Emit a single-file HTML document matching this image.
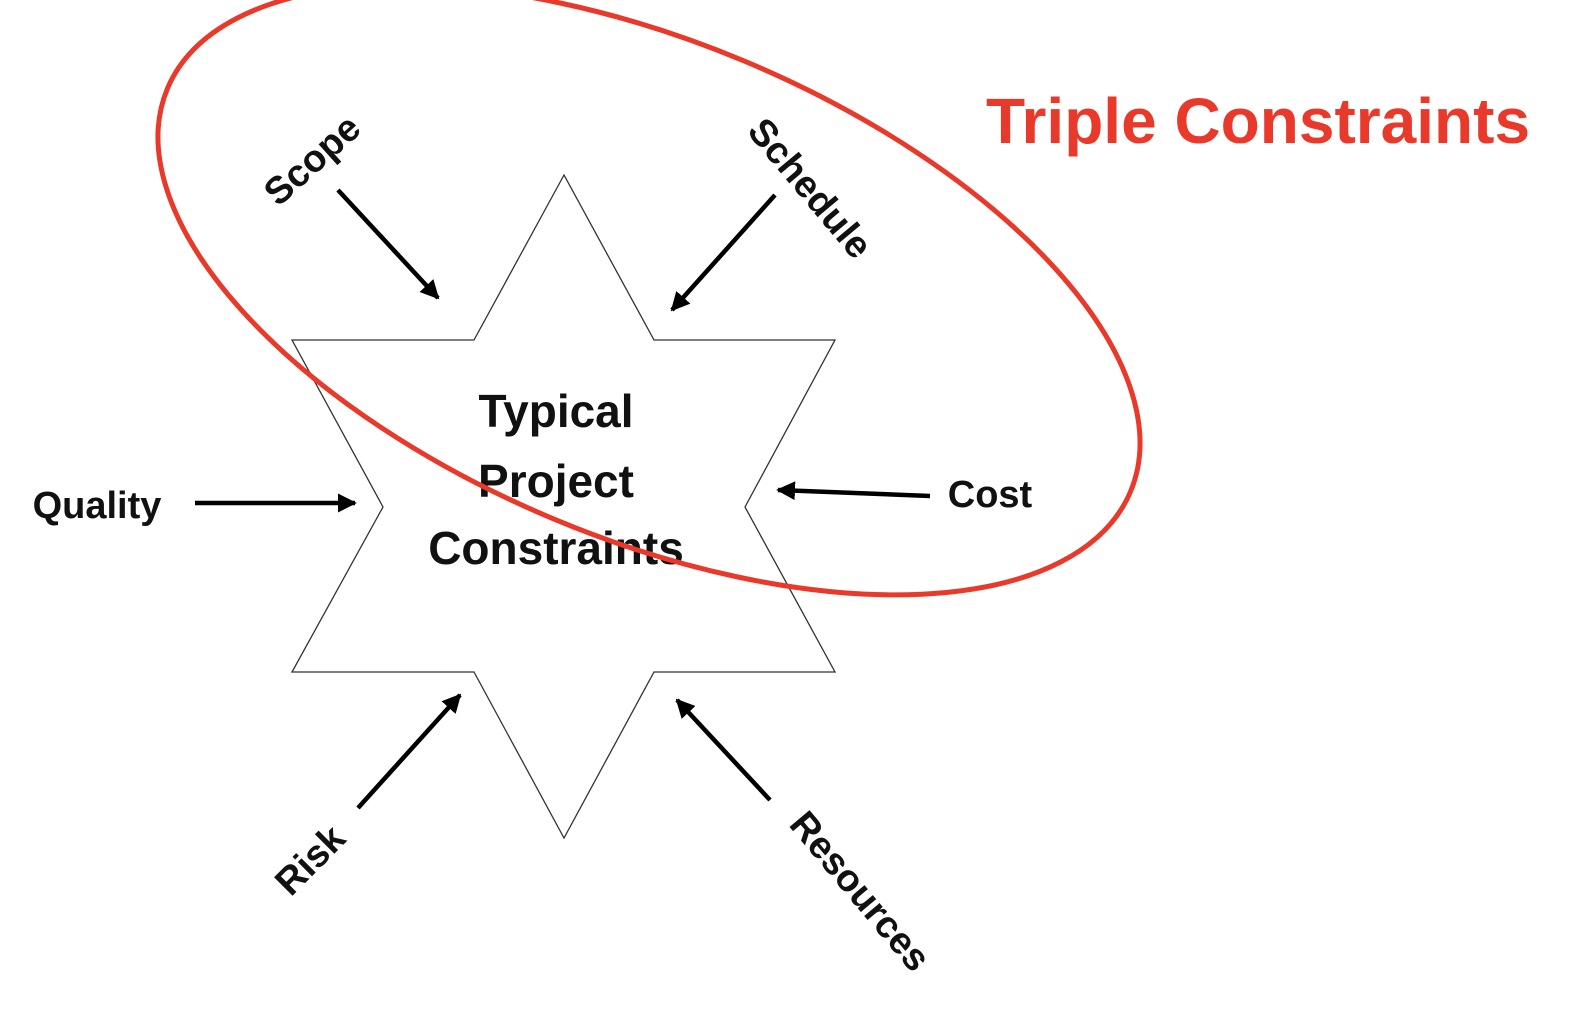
<!DOCTYPE html>
<html><head><style>html,body{margin:0;padding:0;background:#fff;}svg{display:block}</style></head>
<body>
<svg width="1582" height="1014" viewBox="0 0 1582 1014" xmlns="http://www.w3.org/2000/svg">
<defs>
<marker id="ah" viewBox="0 0 10 10" refX="9" refY="5" markerWidth="4.2" markerHeight="4.2" orient="auto" markerUnits="strokeWidth">
<path d="M0,0 L10,5 L0,10 z" fill="#000"/></marker>
</defs>
<polygon points="564,175 474,340 292,340 383,507 292,672 474,672 564,838 654,672 835,672 745,507 835,340 654,340" fill="#fff" stroke="#333" stroke-width="1.3"/>
<g stroke="#000" stroke-width="4.5" marker-end="url(#ah)" fill="none">
<line x1="338" y1="190" x2="438" y2="298"/>
<line x1="775" y1="195" x2="672" y2="310"/>
<line x1="195" y1="503" x2="355" y2="503"/>
<line x1="930" y1="496" x2="778" y2="490"/>
<line x1="358" y1="808" x2="460" y2="695"/>
<line x1="770" y1="800" x2="677" y2="700"/>
</g>
<g font-family="Liberation Sans, Arial, sans-serif" font-weight="bold" fill="#111" font-size="38">
<text transform="translate(314,162) rotate(-42)" text-anchor="middle" dominant-baseline="middle">Scope</text>
<text transform="translate(808,190) rotate(50)" text-anchor="middle" dominant-baseline="middle">Schedule</text>
<text x="97" y="508" text-anchor="middle" dominant-baseline="middle">Quality</text>
<text x="990" y="497" text-anchor="middle" dominant-baseline="middle">Cost</text>
<text transform="translate(312,862) rotate(-45)" text-anchor="middle" dominant-baseline="middle">Risk</text>
<text transform="translate(858,893) rotate(50)" text-anchor="middle" dominant-baseline="middle">Resources</text>
<g font-size="46" text-anchor="middle" dominant-baseline="middle">
<text x="556" y="415">Typical</text>
<text x="556" y="485">Project</text>
<text x="556" y="552">Constraints</text>
</g>
</g>
<ellipse cx="649" cy="290" rx="522" ry="248" transform="rotate(22.7 649 290)" fill="none" stroke="#e8392a" stroke-width="5"/>
<text x="1258" y="126" text-anchor="middle" dominant-baseline="middle" font-family="Liberation Sans, Arial, sans-serif" font-weight="bold" font-size="64" fill="#e8392a">Triple Constraints</text>
</svg>
</body></html>
